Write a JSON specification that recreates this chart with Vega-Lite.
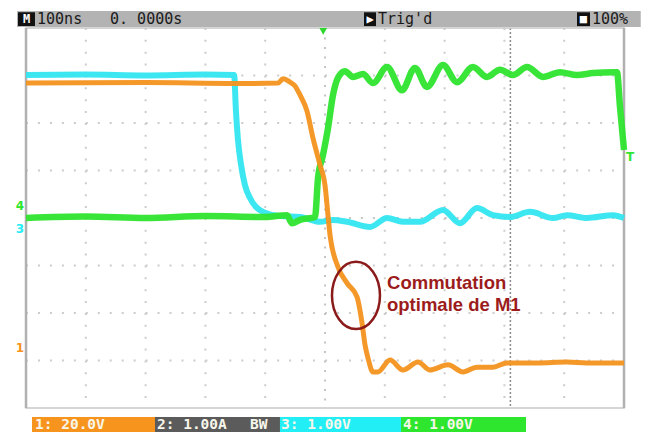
{
  "$schema": "https://vega.github.io/schema/vega-lite/v6.json",
  "width": 649,
  "height": 432,
  "autosize": {"type": "fit", "contains": "padding"},
  "padding": 0,
  "background": "white",
  "config": {"view": {"stroke": null}},
  "datasets": {
    "ch1": [
      {"t": -500, "v": 2.84}, {"t": -300, "v": 2.85}, {"t": -150, "v": 2.83}, {"t": -78.6, "v": 2.84},
      {"t": -70.2, "v": 2.93}, {"t": -58.5, "v": 2.86}, {"t": -50.2, "v": 2.78}, {"t": -41.8, "v": 2.59},
      {"t": -30.1, "v": 2.25}, {"t": -20.1, "v": 1.68}, {"t": -8.4, "v": 1.12}, {"t": 0, "v": 0.69},
      {"t": 5.0, "v": 0.06}, {"t": 8.4, "v": -0.36}, {"t": 21.7, "v": -1.03}, {"t": 36.8, "v": -1.37},
      {"t": 53.5, "v": -1.66}, {"t": 61.9, "v": -2.21}, {"t": 66.9, "v": -2.67}, {"t": 71.9, "v": -2.95},
      {"t": 80.3, "v": -3.24}, {"t": 88.6, "v": -3.24}, {"t": 108.7, "v": -2.99}, {"t": 130.4, "v": -3.2},
      {"t": 155.5, "v": -3.03}, {"t": 175.6, "v": -3.2}, {"t": 205.7, "v": -3.09}, {"t": 230.7, "v": -3.24},
      {"t": 254.1, "v": -3.14}, {"t": 280.9, "v": -3.14}, {"t": 304.3, "v": -3.05}, {"t": 354.5, "v": -3.05},
      {"t": 404.6, "v": -3.03}, {"t": 438.1, "v": -3.05}, {"t": 500, "v": -3.05}
    ],
    "ch3": [
      {"t": -500, "v": 3.01}, {"t": -400, "v": 3.02}, {"t": -300, "v": 3.0}, {"t": -200, "v": 3.02},
      {"t": -152, "v": 3.01}, {"t": -149, "v": 2.27}, {"t": -145.5, "v": 1.64}, {"t": -140.4, "v": 1.12},
      {"t": -133.8, "v": 0.69}, {"t": -125.4, "v": 0.42}, {"t": -115.4, "v": 0.23}, {"t": -100.3, "v": 0.11},
      {"t": -75.2, "v": 0.04}, {"t": -41.8, "v": 0.02}, {"t": -8.4, "v": -0.08}, {"t": 13.4, "v": -0.04},
      {"t": 36.8, "v": -0.08}, {"t": 75.2, "v": -0.19}, {"t": 103.7, "v": 0}, {"t": 130.4, "v": -0.08},
      {"t": 158.8, "v": -0.08}, {"t": 197.3, "v": 0.17}, {"t": 225.7, "v": -0.11}, {"t": 254.1, "v": 0.21},
      {"t": 280.9, "v": 0.06}, {"t": 309.3, "v": 0.02}, {"t": 342.8, "v": 0.13}, {"t": 381.2, "v": 0},
      {"t": 404.6, "v": 0.06}, {"t": 438.1, "v": 0}, {"t": 481.5, "v": 0.06}, {"t": 500, "v": 0}
    ],
    "ch4": [
      {"t": -500, "v": 0.0}, {"t": -400, "v": 0.03}, {"t": -300, "v": 0.0}, {"t": -200, "v": 0.04},
      {"t": -100, "v": 0.02}, {"t": -63.5, "v": 0.06}, {"t": -55.2, "v": -0.11}, {"t": -41.8, "v": -0.04},
      {"t": -16.7, "v": 0.02}, {"t": -11.7, "v": 0.84}, {"t": -3.3, "v": 1.33}, {"t": 5.0, "v": 1.89},
      {"t": 13.4, "v": 2.59}, {"t": 21.7, "v": 2.95}, {"t": 33.4, "v": 3.09}, {"t": 46.8, "v": 2.97},
      {"t": 63.5, "v": 3.03}, {"t": 80.3, "v": 2.84}, {"t": 103.7, "v": 3.18}, {"t": 128.7, "v": 2.69},
      {"t": 150.5, "v": 3.16}, {"t": 170.5, "v": 2.76}, {"t": 197.3, "v": 3.22}, {"t": 220.7, "v": 2.86},
      {"t": 247.5, "v": 3.18}, {"t": 270.9, "v": 2.97}, {"t": 292.6, "v": 3.12}, {"t": 314.3, "v": 3.01},
      {"t": 337.8, "v": 3.18}, {"t": 364.5, "v": 2.97}, {"t": 392.9, "v": 3.07}, {"t": 421.4, "v": 3.01},
      {"t": 448.1, "v": 3.05}, {"t": 481.5, "v": 3.07}, {"t": 488.3, "v": 3.07}, {"t": 493.3, "v": 2.34},
      {"t": 500, "v": 1.43}
    ]
  },
  "encoding": {
    "x": {"field": "t", "type": "quantitative", "scale": {"domain": [-543.5, 541.8], "nice": false, "zero": false}, "axis": null},
    "y": {"field": "v", "type": "quantitative", "scale": {"domain": [-4.505, 4.589], "nice": false, "zero": false}, "axis": null}
  },
  "layer": [
    {
      "data": {"values": [{"t": -515, "t2": 528, "v": 4.02, "v2": 4.36}]},
      "mark": {"type": "rect", "color": "#b3b3b3"},
      "encoding": {"x2": {"field": "t2"}, "y2": {"field": "v2"}}
    },
    {
      "data": {"values": [{"t": -513.4, "t2": -485, "v": 4.04, "v2": 4.33}, {"t": 65.2, "t2": 85.3, "v": 4.04, "v2": 4.33}, {"t": 421.4, "t2": 443.1, "v": 4.04, "v2": 4.33}]},
      "mark": {"type": "rect", "color": "#111111"},
      "encoding": {"x2": {"field": "t2"}, "y2": {"field": "v2"}}
    },
    {
      "data": {"values": [{"label": "M", "t": -499, "v": 4.18}, {"label": "▶", "t": 75.3, "v": 4.18}, {"label": "■", "t": 432.2, "v": 4.18}]},
      "mark": {"type": "text", "align": "center", "baseline": "middle", "font": "DejaVu Sans Mono", "fontWeight": "bold", "fontSize": 12, "color": "#ffffff"},
      "encoding": {"text": {"field": "label"}}
    },
    {
      "data": {"values": [{"label": "100ns", "t": -481.6, "v": 4.18}, {"label": "0. 0000s", "t": -359.5, "v": 4.18}, {"label": "Trig'd", "t": 88.6, "v": 4.18}, {"label": "100%", "t": 446.5, "v": 4.18}]},
      "mark": {"type": "text", "align": "left", "baseline": "middle", "font": "DejaVu Sans Mono", "fontSize": 15, "color": "#1a1a1a"},
      "encoding": {"text": {"field": "label"}}
    },
    {
      "data": {"values": [{"ch": "1", "t": -490, "t2": -284.3, "v": -4.19, "v2": -4.505}, {"ch": "2", "t": -284.3, "t2": -75.3, "v": -4.19, "v2": -4.505}, {"ch": "3", "t": -75.3, "t2": 127.1, "v": -4.19, "v2": -4.505}, {"ch": "4", "t": 127.1, "t2": 336.1, "v": -4.19, "v2": -4.505}]},
      "mark": {"type": "rect"},
      "encoding": {
        "x2": {"field": "t2"}, "y2": {"field": "v2"},
        "color": {"field": "ch", "type": "nominal", "scale": {"domain": ["1", "2", "3", "4"], "range": ["#f7941d", "#5b5b5b", "#22eef6", "#2ee62e"]}, "legend": null}
      }
    },
    {
      "data": {"values": [{"label": "1: 20.0V", "t": -485, "v": -4.36}, {"label": "2: 1.00A", "t": -281, "v": -4.36}, {"label": "BW", "t": -125.4, "v": -4.36}, {"label": "3: 1.00V", "t": -73.6, "v": -4.36}, {"label": "4: 1.00V", "t": 130.4, "v": -4.36}]},
      "mark": {"type": "text", "align": "left", "baseline": "middle", "font": "DejaVu Sans Mono", "fontWeight": "bold", "fontSize": 14.5, "color": "#f8f6ea"},
      "encoding": {"text": {"field": "label"}}
    },
    {
      "data": {"values": [{"t": -400, "v": 4, "v2": -4}, {"t": -300, "v": 4, "v2": -4}, {"t": -200, "v": 4, "v2": -4}, {"t": -100, "v": 4, "v2": -4}, {"t": 100, "v": 4, "v2": -4}, {"t": 200, "v": 4, "v2": -4}, {"t": 300, "v": 4, "v2": -4}, {"t": 400, "v": 4, "v2": -4}]},
      "mark": {"type": "rule", "color": "#cccccc", "strokeWidth": 2, "strokeDash": [2, 9.875]},
      "encoding": {"y2": {"field": "v2"}}
    },
    {
      "data": {"values": [{"v": -3, "t": -500, "t2": 500}, {"v": -2, "t": -500, "t2": 500}, {"v": -1, "t": -500, "t2": 500}, {"v": 1, "t": -500, "t2": 500}, {"v": 2, "t": -500, "t2": 500}, {"v": 3, "t": -500, "t2": 500}]},
      "mark": {"type": "rule", "color": "#cccccc", "strokeWidth": 2, "strokeDash": [2, 9.96]},
      "encoding": {"x2": {"field": "t2"}}
    },
    {
      "data": {"values": [{"t": 0, "v": 4, "v2": -4}]},
      "mark": {"type": "rule", "color": "#c4c4c4", "strokeWidth": 2, "strokeDash": [2, 7.5]},
      "encoding": {"y2": {"field": "v2"}}
    },
    {
      "data": {"values": [{"v": 0, "t": -500, "t2": 500}]},
      "mark": {"type": "rule", "color": "#c4c4c4", "strokeWidth": 2, "strokeDash": [2, 9.96]},
      "encoding": {"x2": {"field": "t2"}}
    },
    {
      "data": {"values": [{"t": 310, "v": 4, "v2": -4}]},
      "mark": {"type": "rule", "color": "#8c8c8c", "strokeWidth": 1.5, "strokeDash": [2, 2]},
      "encoding": {"y2": {"field": "v2"}}
    },
    {
      "data": {"values": [{"t": -500, "t2": 500, "v": -4, "v2": 4}]},
      "mark": {"type": "rect", "fillOpacity": 0, "stroke": "#c8c8c8", "strokeWidth": 1.5},
      "encoding": {"x2": {"field": "t2"}, "y2": {"field": "v2"}}
    },
    {
      "data": {"values": [{"t": -500, "v": 4, "v2": -4}, {"t": 500, "v": 4, "v2": -4}]},
      "mark": {"type": "rule", "color": "#b0b0b0", "strokeWidth": 2.5},
      "encoding": {"y2": {"field": "v2"}}
    },
    {
      "data": {"name": "ch3"},
      "mark": {"type": "line", "color": "#33e6f0", "strokeWidth": 6, "opacity": 0.95, "interpolate": "monotone"}
    },
    {
      "data": {"name": "ch4"},
      "mark": {"type": "line", "color": "#2fe42f", "strokeWidth": 6.5, "opacity": 0.95, "interpolate": "monotone"}
    },
    {
      "data": {"name": "ch1"},
      "mark": {"type": "line", "color": "#f4921f", "strokeWidth": 5, "opacity": 0.95, "interpolate": "monotone"}
    },
    {
      "data": {"values": [{"t": 51.8, "v": -1.63}]},
      "mark": {"type": "point", "shape": "M0,-1.4A1,1.4 0 1,1 0,1.4A1,1.4 0 1,1 0,-1.4Z", "size": 2304, "filled": false, "color": "#8b1a1a", "strokeWidth": 2.5, "opacity": 1}
    },
    {
      "data": {"values": [{"label": "Commutation", "t": 103.7, "v": -1.37}, {"label": "optimale de M1", "t": 103.7, "v": -1.83}]},
      "mark": {"type": "text", "align": "left", "baseline": "middle", "font": "Liberation Sans", "fontWeight": "bold", "fontSize": 18.5, "color": "#9c1c1c"},
      "encoding": {"text": {"field": "label"}}
    },
    {
      "data": {"values": [{"label": "4", "ch": "4", "t": -510, "v": 0.25}, {"label": "3", "ch": "3", "t": -510, "v": -0.23}, {"label": "1", "ch": "1", "t": -510, "v": -2.74}, {"label": "T", "ch": "4", "t": 510, "v": 1.28}]},
      "mark": {"type": "text", "align": "center", "baseline": "middle", "font": "DejaVu Sans", "fontWeight": "bold", "fontSize": 12},
      "encoding": {
        "text": {"field": "label"},
        "color": {"field": "ch", "type": "nominal", "scale": {"domain": ["1", "2", "3", "4"], "range": ["#f7941d", "#5b5b5b", "#22eef6", "#2ee62e"]}, "legend": null}
      }
    },
    {
      "data": {"values": [{"t": -3, "v": 3.93}]},
      "mark": {"type": "point", "shape": "triangle-down", "size": 60, "filled": true, "color": "#2ed82e", "opacity": 1}
    }
  ]
}
